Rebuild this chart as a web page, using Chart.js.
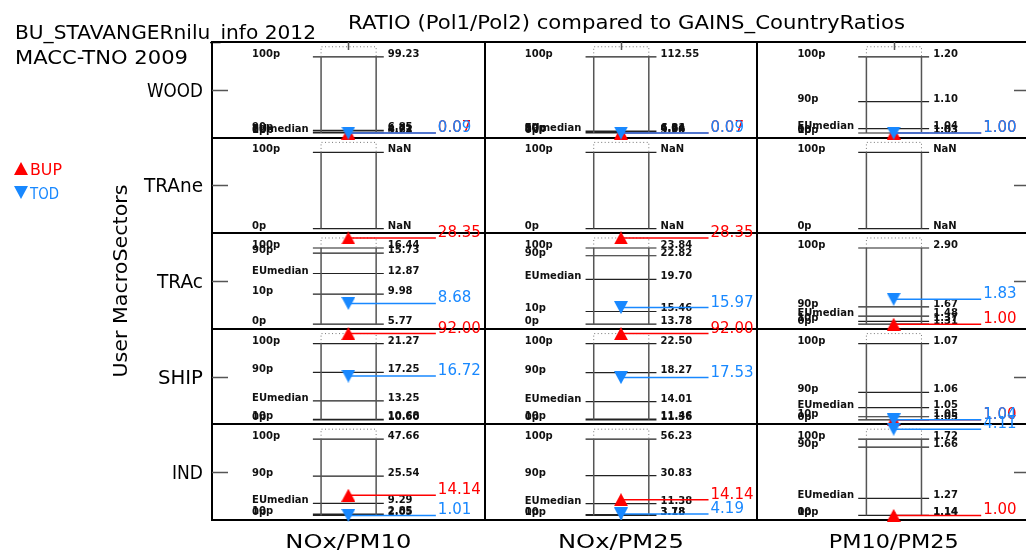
<!DOCTYPE html>
<html>
<head>
<meta charset="utf-8">
<script src="https://cdn.jsdelivr.net/npm/chart.js@4.4.1/dist/chart.umd.min.js"></script>
<style>
  html, body { margin: 0; padding: 0; overflow: hidden; background: #fff; }
  #wrap { width: 1040px; height: 552px; }
</style>
</head>
<body>
<div id="wrap"><canvas id="chart" width="1040" height="552"></canvas></div>
<script>
// ---- data -------------------------------------------------------------
const sectors = ['WOOD', 'TRAne', 'TRAc', 'SHIP', 'IND'];
const ratios = ['NOx/PM10', 'NOx/PM25', 'PM10/PM25'];
const pctNames = ['100p', '90p', 'EUmedian', '10p', '0p'];

// EU country-ratio percentiles, one [100p, 90p, EUmedian, 10p, 0p] per ratio
const pctWOOD  = [[99.23, 6.85, 4.72, 4.23, 3.61], [112.55, 6.84, 6.21, 4.94, 3.98], [1.20, 1.10, 1.04, 1.03, 1.03]];
const pctTRAne = [[null, null, null, null, null], [null, null, null, null, null], [null, null, null, null, null]];
const pctTRAc  = [[16.44, 15.73, 12.87, 9.98, 5.77], [23.84, 22.82, 19.70, 15.46, 13.78], [2.90, 1.67, 1.48, 1.37, 1.31]];
const pctSHIP  = [[21.27, 17.25, 13.25, 10.68, 10.60], [22.50, 18.27, 14.01, 11.46, 11.36], [1.072, 1.056, 1.051, 1.048, 1.047]];
const pctIND   = [[47.66, 25.54, 9.29, 2.85, 2.05], [56.23, 30.83, 11.38, 3.78, 3.18], [1.72, 1.66, 1.27, 1.14, 1.14]];
const pctTable = [pctWOOD, pctTRAne, pctTRAc, pctSHIP, pctIND];

// inventory ratios per sector (rows) and ratio (columns)
const bupRatios = [[0.07, 0.07, 1.00], [null, null, null], [28.35, 28.35, 1.00], [92.00, 92.00, 1.00], [14.14, 14.14, 1.00]];
const todRatios = [[0.09, 0.09, 1.00], [null, null, null], [8.68, 15.97, 1.83], [16.72, 17.53, 1.04], [1.01, 4.19, 4.11]];

// ---- layout (column / row units) ---------------------------------------
const L = {
  boxL: 0.400, boxR: 0.602, lineL: 0.370, lineR: 0.630, center: 0.5,
  pctLabelX: 0.147, pctValueX: 0.645, markLabelX: 0.825,
  topPad: 0.155, botPad: 0.048, clampTop: 0.05
};
const RED = '#ff0000';
const BLUE = 'rgb(24,136,255)';
const FONT = 'DejaVu Sans';

function yOf(r, v, p) {
  const span = 1 - L.topPad - L.botPad;
  return r + 1 - L.botPad - (v - p[4]) / (p[0] - p[4]) * span;
}
function markY(r, v, p) {
  if (v > p[0]) return r + L.clampTop;
  if (v < p[4]) return yOf(r, p[4], p);
  return yOf(r, v, p);
}
function lineY(r, i, p) {
  if (p[0] === null) return i === 0 ? r + L.topPad : r + 1 - L.botPad;
  return yOf(r, p[i], p);
}

function triangle(color, up) {
  const c = document.createElement('canvas');
  c.width = 14; c.height = 13;
  const g = c.getContext('2d');
  g.fillStyle = color;
  g.beginPath();
  if (up) { g.moveTo(7, 0); g.lineTo(14, 13); g.lineTo(0, 13); }
  else { g.moveTo(0, 0); g.lineTo(14, 0); g.lineTo(7, 13); }
  g.closePath(); g.fill();
  return c;
}
const triUp = triangle(RED, true);
const triDown = triangle(BLUE, false);

// ---- datasets -----------------------------------------------------------
const GAP = { x: NaN, y: NaN };
const dotted = [], verticals = [], pctLines = [];
sectors.forEach((s, r) => ratios.forEach((q, c) => {
  const p = pctTable[r][c];
  const y100 = lineY(r, 0, p), y0 = lineY(r, 4, p);
  const yTop = r + L.clampTop;
  dotted.push({ x: c + L.boxL, y: y100 }, { x: c + L.boxL, y: yTop }, { x: c + L.boxR, y: yTop }, { x: c + L.boxR, y: y100 }, GAP);
  verticals.push({ x: c + L.boxL, y: y0 }, { x: c + L.boxL, y: y100 }, GAP, { x: c + L.boxR, y: y0 }, { x: c + L.boxR, y: y100 }, GAP);
  pctNames.forEach((n, i) => {
    if (p[0] === null && i !== 0 && i !== 4) return;
    const y = lineY(r, i, p);
    pctLines.push({ x: c + L.lineL, y }, { x: c + L.lineR, y }, GAP);
  });
}));

const datasets = [
  { data: dotted, showLine: true, borderColor: '#777', borderWidth: 1, borderDash: [1, 2.5], pointRadius: 0, order: 10 },
  { data: verticals, showLine: true, borderColor: '#555', borderWidth: 1.5, pointRadius: 0, order: 10 },
  { data: pctLines, showLine: true, borderColor: '#222', borderWidth: 1.2, pointRadius: 0, order: 10 }
];

function markerSet(values, color, img, order) {
  values.forEach((row, r) => row.forEach((v, c) => {
    if (v === null) return;
    const y = markY(r, v, pctTable[r][c]);
    datasets.push({
      data: [{ x: c + L.center, y }, { x: c + L.markLabelX - 0.004, y }],
      showLine: true, borderColor: color, borderWidth: 1.5,
      pointStyle: [img, 'circle'], pointRadius: [7, 0], clip: false, order,
      label: v.toFixed(2)
    });
  }));
}
markerSet(bupRatios, RED, triUp, 2);
markerSet(todRatios, BLUE, triDown, 1);

// ---- text helpers -------------------------------------------------------
function drawText(ctx, s, x, y, o) {
  ctx.save();
  ctx.font = `${o.weight || 'normal'} ${o.size}px ${o.family || FONT}`;
  ctx.fillStyle = o.color || '#000';
  ctx.textBaseline = 'alphabetic';
  ctx.textAlign = 'left';
  const w = ctx.measureText(s).width;
  const k = o.width ? o.width / w : 1;
  const tw = w * k;
  ctx.translate(x, y);
  if (o.rotate) ctx.rotate(o.rotate);
  let left = 0;
  if (o.align === 'center') left = -tw / 2;
  else if (o.align === 'right') left = -tw;
  ctx.translate(left, 0);
  ctx.scale(k, 1);
  ctx.fillText(s, 0, 0);
  ctx.restore();
}

const rowLabelWidths = { WOOD: 56, TRAne: 59, TRAc: 46, SHIP: 45, IND: 31 };
const colLabelWidths = [126, 126, 130];

const annotations = {
  id: 'annotations',
  beforeDatasetsDraw(chart) {
    const { ctx, scales: { x, y } } = chart;
    // inward axis ticks at row and column centres
    ctx.save();
    ctx.strokeStyle = '#555';
    ctx.lineWidth = 1.5;
    sectors.forEach((s, r) => {
      const py = Math.round(y.getPixelForValue(r + 0.5)) + 0.5;
      ctx.beginPath();
      ctx.moveTo(x.left, py); ctx.lineTo(x.left + 16, py);
      ctx.moveTo(x.right, py); ctx.lineTo(x.right - 16, py);
      ctx.stroke();
    });
    ratios.forEach((q, c) => {
      const px = Math.round(x.getPixelForValue(c + 0.5)) + 0.5;
      ctx.beginPath();
      ctx.moveTo(px, y.top); ctx.lineTo(px, y.top + 8);
      ctx.moveTo(px, y.bottom); ctx.lineTo(px, y.bottom - 8);
      ctx.stroke();
    });
    ctx.restore();
    // percentile names and values
    sectors.forEach((s, r) => ratios.forEach((q, c) => {
      const p = pctTable[r][c];
      pctNames.forEach((n, i) => {
        if (p[0] === null && i !== 0 && i !== 4) return;
        const py = y.getPixelForValue(lineY(r, i, p));
        const val = p[i] === null ? 'NaN' : p[i].toFixed(2);
        drawText(ctx, n, x.getPixelForValue(c + L.pctLabelX), py, { size: 10, weight: 'bold', color: '#111' });
        drawText(ctx, val, x.getPixelForValue(c + L.pctValueX), py, { size: 10, weight: 'bold', color: '#111' });
      });
    }));
  },
  afterDatasetsDraw(chart) {
    const { ctx, scales: { x, y } } = chart;
    // marker value labels
    chart.data.datasets.forEach((ds, i) => {
      if (!ds.label) return;
      const pt = ds.data[1];
      drawText(ctx, ds.label, x.getPixelForValue(pt.x) + 2, y.getPixelForValue(pt.y) - 1,
        { size: 15, color: ds.borderColor });
    });
    // titles
    drawText(ctx, 'RATIO (Pol1/Pol2) compared to GAINS_CountryRatios', 348, 29, { size: 20, width: 557 });
    drawText(ctx, 'BU_STAVANGERnilu_info 2012', 15, 39, { size: 20, width: 301 });
    drawText(ctx, 'MACC-TNO 2009', 15, 64, { size: 20, width: 173 });
    // row labels
    sectors.forEach((s, r) => {
      drawText(ctx, s, 203, y.getPixelForValue(r + 0.5) + 7, { size: 20, align: 'right', width: rowLabelWidths[s] });
    });
    drawText(ctx, 'User MacroSectors', 127, 281, { size: 20, align: 'center', width: 193, rotate: -Math.PI / 2 });
    // column labels
    ratios.forEach((q, c) => {
      drawText(ctx, q, x.getPixelForValue(c + 0.5), 548, { size: 20, align: 'center', width: colLabelWidths[c] });
    });
    // legend
    ctx.drawImage(triUp, 14, 162);
    drawText(ctx, 'BUP', 30, 175, { size: 15, color: RED, width: 32 });
    ctx.drawImage(triDown, 14, 186);
    drawText(ctx, 'TOD', 30, 199, { size: 15, color: BLUE, width: 29 });
  }
};

new Chart(document.getElementById('chart'), {
  type: 'scatter',
  data: { datasets },
  options: {
    responsive: false,
    animation: false,
    events: [],
    layout: { padding: { left: 212, top: 42, right: 10, bottom: 32 }, autoPadding: false },
    plugins: { legend: { display: false }, tooltip: { enabled: false } },
    scales: {
      x: {
        type: 'linear', min: 0, max: 3,
        ticks: { display: false, stepSize: 1 },
        grid: { color: '#000', lineWidth: 2, drawTicks: false },
        border: { display: true, color: '#000', width: 2 }
      },
      y: {
        type: 'linear', min: 0, max: 5, reverse: true,
        ticks: { display: false, stepSize: 1 },
        grid: { color: '#000', lineWidth: 2, drawTicks: false },
        border: { display: true, color: '#000', width: 2 }
      }
    }
  },
  plugins: [annotations]
});
</script>
</body>
</html>
